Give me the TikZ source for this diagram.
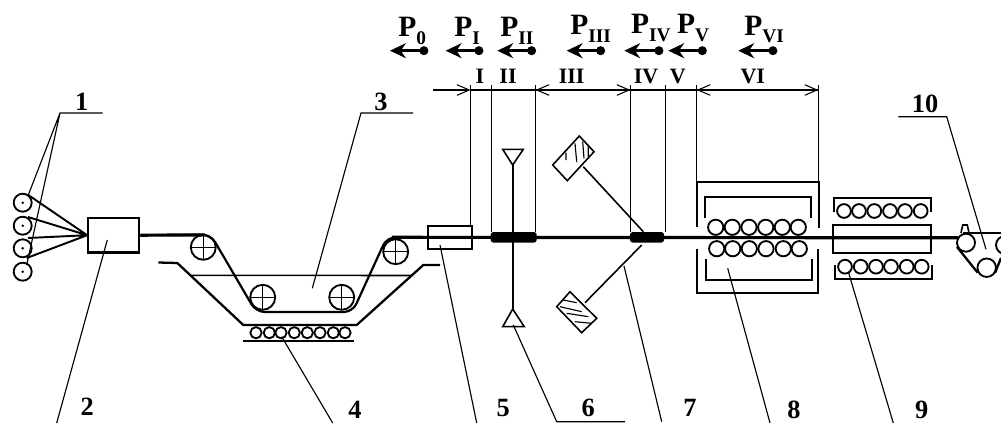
\documentclass[tikz,border=0pt]{standalone}
\usepackage{fontspec}
\setmainfont{Liberation Serif}
\usetikzlibrary{arrows.meta,calc}
\newcommand{\Pforce}[1]{P\raisebox{-4.5pt}{\fontsize{11}{11}\selectfont #1}}
\tikzset{
 thread/.style={line width=1.8pt},
 slack/.style={line width=1.25pt},
 wall/.style={line width=1.3pt},
 leader/.style={line width=0.65pt},
 roller/.style={circle,draw,line width=1.05pt,minimum size=0.305cm,inner sep=0pt},
 pulley/.style={circle,draw,line width=1.05pt,minimum size=0.5cm,inner sep=0pt,
  path picture={\draw[line width=0.9pt] (path picture bounding box.north)--(path picture bounding box.south)
   (path picture bounding box.west)--(path picture bounding box.east);}},
 sample/.style={fill=black,rounded corners=1.5pt,minimum height=0.21cm,inner sep=0pt},
 unit/.style={draw,line width=1.3pt,inner sep=0pt},
 num/.style={font=\bfseries\fontsize{15}{15}\selectfont,anchor=base,inner sep=0pt},
 zone/.style={font=\bfseries\fontsize{12.5}{12.5}\selectfont,anchor=base,inner sep=0pt},
 force/.style={font=\bfseries\fontsize{16.8}{16.8}\selectfont,anchor=base west,inner sep=0pt},
 pull/.style={line width=2pt,{Circle[length=5pt]}-{Stealth[length=9pt,width=8.5pt]}},
 dimen/.style={line width=0.6pt},
 barb/.style={-{Straight Barb[length=7pt,width=6pt]}},
}
\begin{document}
\begin{tikzpicture}[x=0.02cm,y=-0.02cm]
\useasboundingbox (0,0) rectangle (1001,423);
% creel and collector
\foreach \i/\y in {1/202.7,2/225.7,3/248.3,4/271.7}{
 \node[roller,minimum size=0.36cm] (creel\i) at (22.7,\y){};
 \fill (creel\i) circle (1.4);}
\node[unit,minimum width=1.02cm,minimum height=0.69cm] (box2) at (113.8,235.2){};
\coordinate (cone) at (box2.west);
\draw[line width=1.1pt] (28.3,195)--(cone) (28,217)--(cone) (28,238)--(cone) (26.7,258)--(cone);
% bath
\node[pulley] (pul1) at (203.3,247.3){};
\node[pulley] (pul2) at (262.7,297.3){};
\node[pulley] (pul3) at (341.7,297.3){};
\node[pulley] (pul4) at (395.7,251.7){};
\draw[wall] (158.3,262.5)--(177.3,263)--(243.3,325)--(356.7,325)--(423.3,265)--(440,265);
\draw[line width=0.9pt] (190,275.3)--(411.7,275.5);
\foreach \x in {256,269.3,281,294.3,307.3,320,333.3,345}{
 \node[roller,minimum size=0.225cm] (htr\x) at (\x,332.7){};}
\draw[wall] (243.3,341)--(354,341);
\node[unit,minimum width=0.88cm,minimum height=0.47cm] (box5) at (449.7,237.5){};
% thread
\draw[slack,rounded corners=5pt] (box2.east)--(210.8,234.7)--(256,312)--(352.6,312)--(386.8,237.3)--(400,237.3);
\draw[thread] (box2.east)--(205,234.9);
\draw[thread] (392,237.3)--(958,237.8);
\node[sample,minimum width=0.92cm] (segII) at (513.7,237.3){};
\node[sample,minimum width=0.68cm] (segIV) at (647,237.3){};
% nozzle pair and cooling blocks
\draw[line width=0.9pt] (502.7,149.3)--(523.3,149.3)--(512.7,165)--cycle;
\draw[line width=0.9pt] (512.7,309)--(524.3,326.7)--(502.7,326.7)--cycle;
\draw[wall] (512.7,165)--(512.7,309);
\draw[line width=0.9pt] (579.3,136)--(594,151.7)--(567.3,180.7)--(552.7,165)--cycle;
\draw[leader] (566,152.7)--(566,160) (575,143.3)--(576.7,162) (582.7,141.7)--(584,158.3) (588.3,146.7)--(588.3,156.7);
\draw[line width=0.9pt] (570,291.7)--(596.7,318.3)--(581.7,332.7)--(556.7,306.7)--cycle;
\draw[leader] (563.3,300)--(576.7,302.7) (560,306.7)--(581.7,311.7) (566.7,313.3)--(588.3,316.7) (575,321.7)--(591.7,323.3);
\coordinate (jetup) at (583.3,166.7);
\coordinate (jetdn) at (585,302.7);
\draw[line width=0.9pt] (jetup)--(643.3,231.7);
\draw[line width=0.9pt] (jetdn)--(641.7,245);
% furnace 8
\draw[wall] (697.3,226.7)--(697.3,181.7)--(818.7,181.7)--(818.7,228);
\draw[wall] (697.3,249.3)--(697.3,293.3)--(818.3,293.3)--(818.3,249.3);
\draw[wall] (705,218.3)--(705,196.7)--(810.7,196.7)--(810.7,218.3);
\draw[wall] (706,259.3)--(706,280)--(811.7,280)--(811.7,259.3);
\foreach \x in {715.7,732.3,749,765.7,782.3,798.3}{
 \node[roller] (top\x) at (\x,227.3){};}
\foreach \x in {716.7,732.7,749.3,766,783.3,799.3}{
 \node[roller] (bot\x) at (\x,248.7){};}
% furnace 9
\draw[wall] (834.3,211.7)--(834.3,198.3)--(930.7,198.3)--(930.7,211.7);
\draw[wall] (835,265)--(835,279.3)--(931.7,279.3)--(931.7,265);
\node[unit,minimum width=1.96cm,minimum height=0.566cm] (tube) at (881.7,239.2){};
\foreach \x in {844,859,874.3,890,905,920.7}{
 \node[roller,minimum size=0.275cm] (up\x) at (\x,211){};}
\foreach \x in {845,860.7,876,891,906.7,921.7}{
 \node[roller,minimum size=0.275cm] (lo\x) at (\x,266.7){};}
% take-up
\node[roller,minimum size=0.36cm] (take1) at (966,242.7){};
\node[roller,minimum size=0.37cm] (take2) at (986.7,267.7){};
\node[roller,minimum size=0.36cm] (take3) at (1005,245){};
\draw[wall] (963.3,233)--(1001,233);
\draw[wall] (957,247)--(977.7,272.7);
\draw[wall] (995,273)--(1001,258);
\draw[line width=0.9pt] (961,233)--(962.7,225)--(967.3,225)--(969,233);
% zone lines
\foreach \n/\x/\yb in {a/470.6/225.7,b/491.6/232,c/535.5/232,d/630.5/232,e/665.6/232,f/696.6/181.7,g/818.4/181.7}{
 \coordinate (z\n) at (\x,85);
 \coordinate (zb\n) at (\x,\yb);
 \coordinate (zd\n) at (\x,90);
 \draw[dimen] (z\n)--(zb\n);}
\coordinate (zs) at (433.3,90);
\draw[dimen,barb] (zs)--(zda);
\draw[dimen] (zda)--(zdc);
\draw[dimen,barb] (zdd)--(zdc);
\draw[dimen,barb] (zdc)--(zdd);
\draw[dimen,barb] (zdg)--(zdf);
\draw[dimen,barb] (zdf)--(zdg);
\draw[dimen] (zdd)--(zdf);
\fill (zdb) circle (1.6) (zde) circle (1.6);
\node[zone] (lI) at (480,83.3){I};
\node[zone] (lII) at (508,83.3){II};
\node[zone] (lIII) at (571.7,83.3){III};
\node[zone] (lIV) at (646,83.3){IV};
\node[zone] (lV) at (677.7,83.3){V};
\node[zone] (lVI) at (752.7,83.3){VI};
% tensions
\foreach \n/\s/\x/\y/\a/\b in {0/0/398/36.7/428.3/390,1/I/454/36.7/483.3/445.7,2/II/500/36.7/536/497.3,3/III/570/34.3/605/566.7,4/IV/630.7/33.3/663.3/624.3,5/V/676.7/33.3/706.7/668.3,6/VI/744/35/777.3/738.3}{
 \node[force] (P\n) at (\x,\y){\Pforce{\s}};
 \coordinate (ps\n) at (\a,50.7);
 \coordinate (pe\n) at (\b,50.7);
 \draw[pull] (ps\n)--(pe\n);}
% callouts
\node[num] (n1) at (81.7,110){1};
\node[num] (n2) at (87.3,415){2};
\node[num] (n3) at (381,110.5){3};
\node[num] (n4) at (355,418){4};
\node[num] (n5) at (503.3,416.7){5};
\node[num] (n6) at (588.3,416.7){6};
\node[num] (n7) at (690,416.7){7};
\node[num] (n8) at (794,418){8};
\node[num] (n9) at (921.7,418){9};
\node[num] (n10) at (925,112.5){10};
\draw[leader] (102.7,113)--(60,113)--(28.3,195) (60,113)--(26.7,265);
\draw[leader] (box2.center)++(-6.5,4.8)--(56.7,423);
\draw[leader] (413,113)--(361,113)--(312.3,288.3);
\draw[leader] (281.7,336.7)--(332.7,423);
\draw[leader] (440,245)--(476.7,423);
\draw[leader] (513.3,325)--(556.7,421.7)--(625,421.7);
\draw[leader] (624,266)--(661.7,421.7);
\draw[leader] (727.7,268.3)--(770,423);
\draw[leader] (848.3,271.7)--(893.3,423);
\draw[leader] (898.3,116.7)--(946.7,116.7)--(986,249.3);
\end{tikzpicture}
\end{document}
